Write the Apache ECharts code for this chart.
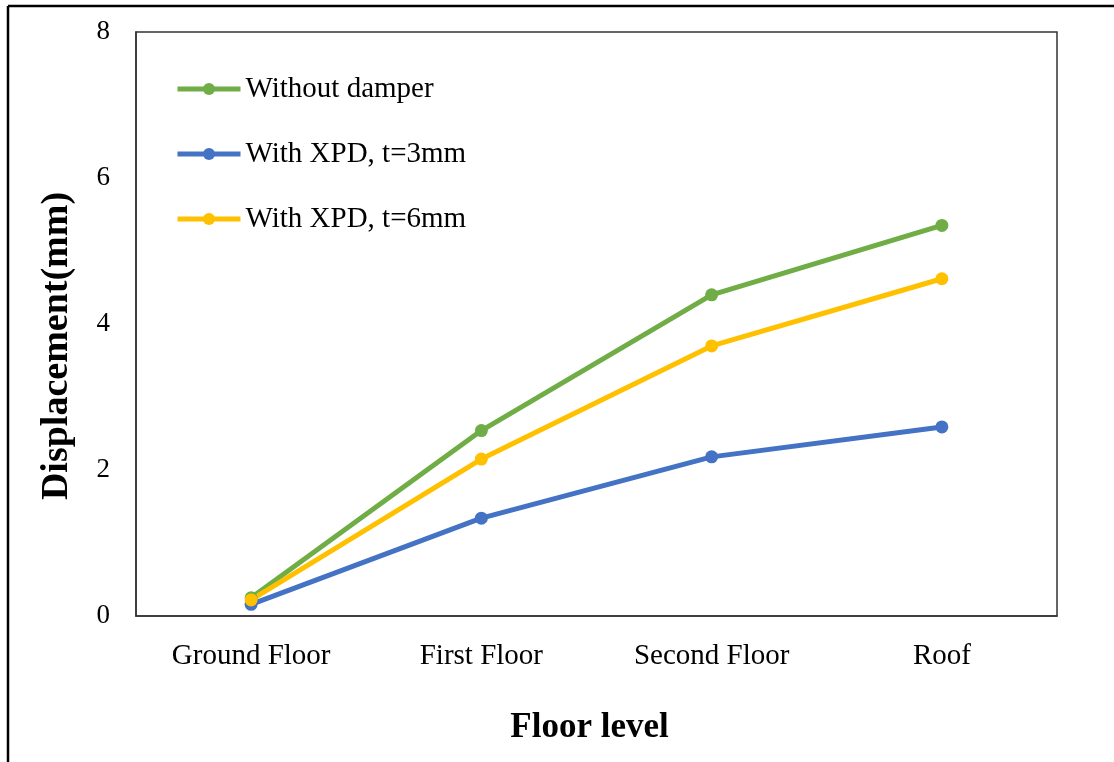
<!DOCTYPE html>
<html>
<head>
<meta charset="utf-8">
<script src="https://cdn.jsdelivr.net/npm/echarts@6/dist/echarts.min.js"></script>
<style>
html,body{margin:0;padding:0;background:#fff;}
#c{width:1114px;height:762px;}
</style>
</head>
<body>
<div id="c"></div>
<script>
var categories = ['Ground Floor', 'First Floor', 'Second Floor', 'Roof'];
var withoutDamper = [0.25, 2.54, 4.40, 5.35];
var xpd3mm = [0.16, 1.34, 2.18, 2.59];
var xpd6mm = [0.22, 2.15, 3.70, 4.62];
var seriesNames = ['Without damper', 'With XPD, t=3mm', 'With XPD, t=6mm'];
var yTicks = [0, 2, 4, 6, 8];

var font = '"Liberation Serif", "Times New Roman", serif';
var chart = echarts.init(document.getElementById('c'), null, {renderer: 'canvas'});

function mk(name, data, color) {
  return {
    name: name, type: 'line', data: data,
    symbol: 'circle', symbolSize: 13,
    lineStyle: {color: color, width: 5},
    itemStyle: {color: color},
    emphasis: {disabled: true},
    animation: false
  };
}

chart.setOption({
  backgroundColor: '#fff',
  animation: false,
  grid: {left: 136, top: 32, right: 57, bottom: 146, show: true, borderColor: '#333', borderWidth: 1.5, backgroundColor: 'transparent'},
  legend: {
    orient: 'vertical', left: 170, top: 69,
    itemWidth: 63, itemHeight: 15, itemGap: 35,
    data: seriesNames,
    lineStyle: {width: 5},
    textStyle: {fontFamily: font, fontSize: 29, color: '#000', lineHeight: 30}
  },
  xAxis: {
    type: 'category', data: categories, boundaryGap: true,
    axisLine: {show: true, lineStyle: {color: '#333', width: 1.5}},
    axisTick: {show: false},
    axisLabel: {fontFamily: font, fontSize: 29, color: '#000', margin: 26},
    name: 'Floor level', nameLocation: 'middle', nameGap: 94,
    nameTextStyle: {fontFamily: font, fontSize: 35, fontWeight: 'bold', color: '#000', padding: [0, 14, 0, 0]}
  },
  yAxis: {
    type: 'value', min: 0, max: 8, interval: 2,
    axisLine: {show: true, lineStyle: {color: '#333', width: 1.5}},
    axisTick: {show: false},
    splitLine: {show: false},
    axisLabel: {fontFamily: font, fontSize: 27, color: '#000', margin: 26,
      formatter: function (v) { return yTicks.indexOf(v) >= 0 ? String(v) : ''; }},
    name: 'Displacement(mm)', nameLocation: 'middle', nameGap: 60,
    nameTextStyle: {fontFamily: font, fontSize: 38, fontWeight: 'bold', color: '#000', padding: [0, 44, 0, 0]}
  },
  graphic: [
    {type: 'line', shape: {x1: 8, y1: 6, x2: 1114, y2: 6}, style: {stroke: '#000', lineWidth: 2.5}},
    {type: 'line', shape: {x1: 8, y1: 6, x2: 8, y2: 762}, style: {stroke: '#000', lineWidth: 2.5}}
  ],
  series: [
    mk(seriesNames[0], withoutDamper, '#70AD47'),
    mk(seriesNames[1], xpd3mm, '#4472C4'),
    mk(seriesNames[2], xpd6mm, '#FFC000')
  ]
});
</script>
</body>
</html>
